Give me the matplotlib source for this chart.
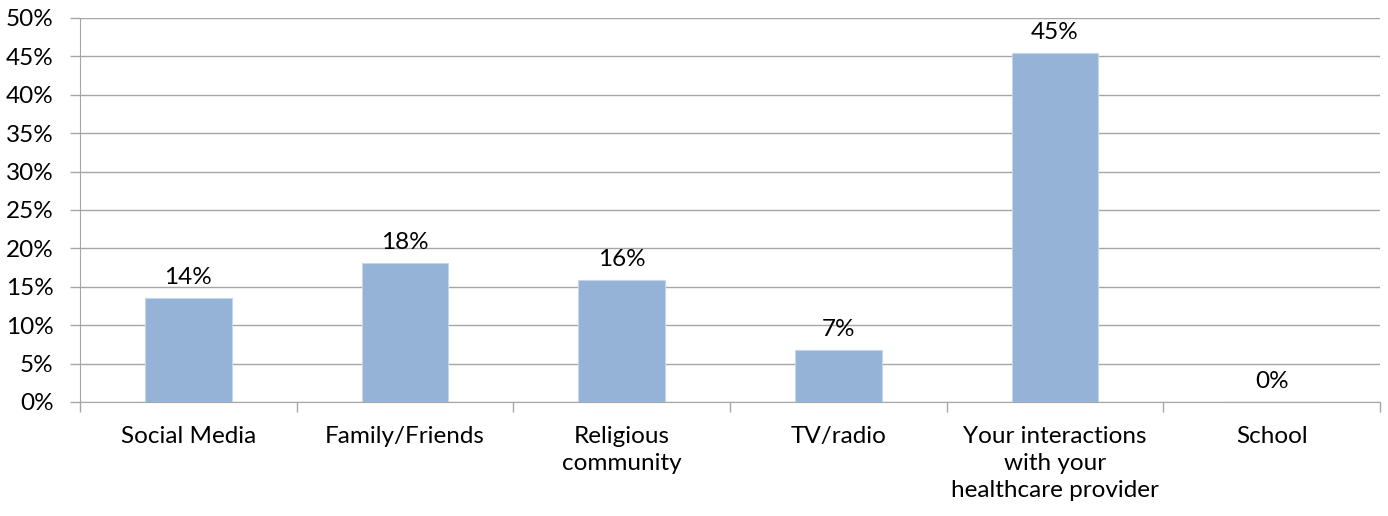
import numpy as np
import matplotlib.pyplot as plt
from matplotlib.ticker import FixedLocator, PercentFormatter

categories = ["Social Media", "Family/Friends", "Religious\ncommunity", "TV/radio",
              "Your interactions\nwith your\nhealthcare provider", "School"]
values = [13.6, 18.1, 15.9, 6.8, 45.5, 0.0]
labels = ["14%", "18%", "16%", "7%", "45%", "0%"]

plt.rcParams['font.family'] = ['Lato', 'DejaVu Sans']
plt.rcParams['font.size'] = 17.5

fig = plt.figure(figsize=(13.88, 5.16), dpi=100)
ax = fig.add_axes([80/1388, 1-402/516, 1300/1388, 384/516])
x = np.arange(len(categories))
bars = ax.bar(x, values, width=0.4, color='#95b3d7', edgecolor='#c5d6ea', linewidth=0.8, zorder=3)
for xi, v, lab in zip(x, values, labels):
    ax.annotate(lab, (xi, v), xytext=(0, 7), textcoords='offset points',
                ha='center', va='bottom', color='#000000')

ax.set_xlim(-0.5, len(categories) - 0.5)
ax.set_ylim(0, 50)
ax.set_yticks(np.arange(0, 51, 5))
ax.yaxis.set_major_formatter(PercentFormatter(decimals=0))
ax.grid(axis='y', color='#a6a6a6', linewidth=1, zorder=0)
ax.set_xticks(x)
ax.set_xticklabels(categories, linespacing=1.35)
ax.xaxis.set_minor_locator(FixedLocator(np.arange(-0.5, len(categories), 1)))
ax.tick_params(axis='x', which='major', length=0, pad=17)
ax.tick_params(axis='x', which='minor', length=7, color='#a6a6a6', width=1)
ax.tick_params(axis='y', length=7, color='#a6a6a6', width=1, pad=12)
for s in ['top', 'right']:
    ax.spines[s].set_visible(False)
for s in ['left', 'bottom']:
    ax.spines[s].set_color('#a6a6a6')

fig.savefig('out.png', dpi=100)
